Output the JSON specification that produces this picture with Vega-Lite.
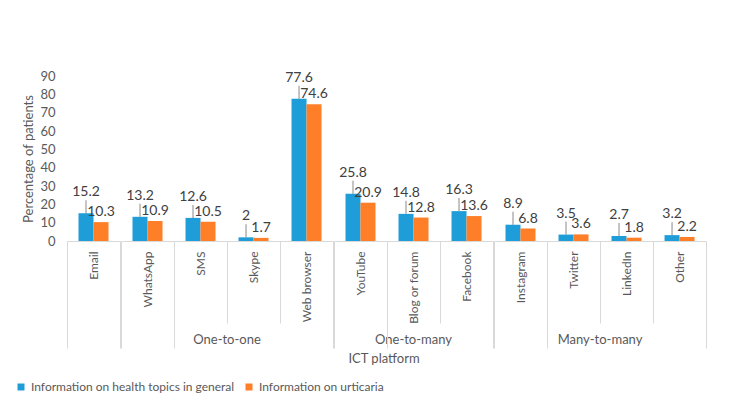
{
  "$schema": "https://vega.github.io/schema/vega-lite/v6.json",
  "padding": {"left": 15, "top": 70, "right": 5, "bottom": 5},
  "bounds": "flush",
  "data": {"values": [
    {"group": " ", "platform": "Email", "series": "Information on health topics in general", "value": 15.2},
    {"group": " ", "platform": "Email", "series": "Information on urticaria", "value": 10.3},
    {"group": "One-to-one", "platform": "WhatsApp", "series": "Information on health topics in general", "value": 13.2},
    {"group": "One-to-one", "platform": "WhatsApp", "series": "Information on urticaria", "value": 10.9},
    {"group": "One-to-one", "platform": "SMS", "series": "Information on health topics in general", "value": 12.6},
    {"group": "One-to-one", "platform": "SMS", "series": "Information on urticaria", "value": 10.5},
    {"group": "One-to-one", "platform": "Skype", "series": "Information on health topics in general", "value": 2},
    {"group": "One-to-one", "platform": "Skype", "series": "Information on urticaria", "value": 1.7},
    {"group": "One-to-one", "platform": "Web browser", "series": "Information on health topics in general", "value": 77.6},
    {"group": "One-to-one", "platform": "Web browser", "series": "Information on urticaria", "value": 74.6},
    {"group": "One-to-many", "platform": "YouTube", "series": "Information on health topics in general", "value": 25.8},
    {"group": "One-to-many", "platform": "YouTube", "series": "Information on urticaria", "value": 20.9},
    {"group": "One-to-many", "platform": "Blog or forum", "series": "Information on health topics in general", "value": 14.8},
    {"group": "One-to-many", "platform": "Blog or forum", "series": "Information on urticaria", "value": 12.8},
    {"group": "One-to-many", "platform": "Facebook", "series": "Information on health topics in general", "value": 16.3},
    {"group": "One-to-many", "platform": "Facebook", "series": "Information on urticaria", "value": 13.6},
    {"group": "Many-to-many", "platform": "Instagram", "series": "Information on health topics in general", "value": 8.9},
    {"group": "Many-to-many", "platform": "Instagram", "series": "Information on urticaria", "value": 6.8},
    {"group": "Many-to-many", "platform": "Twitter", "series": "Information on health topics in general", "value": 3.5},
    {"group": "Many-to-many", "platform": "Twitter", "series": "Information on urticaria", "value": 3.6},
    {"group": "Many-to-many", "platform": "LinkedIn", "series": "Information on health topics in general", "value": 2.7},
    {"group": "Many-to-many", "platform": "LinkedIn", "series": "Information on urticaria", "value": 1.8},
    {"group": "Many-to-many", "platform": "Other", "series": "Information on health topics in general", "value": 3.2},
    {"group": "Many-to-many", "platform": "Other", "series": "Information on urticaria", "value": 2.2}
  ]},
  "facet": {
    "column": {
      "field": "group",
      "type": "nominal",
      "sort": [" ", "One-to-one", "One-to-many", "Many-to-many"],
      "title": "ICT platform",
      "header": {
        "labelOrient": "bottom",
        "titleOrient": "bottom",
        "labelFont": "Lato",
        "labelFontSize": 13,
        "labelColor": "#595959",
        "labelPadding": 93,
        "titleFont": "Lato",
        "titleFontSize": 13,
        "titleFontWeight": "normal",
        "titleColor": "#595959",
        "titlePadding": -4
      }
    }
  },
  "spacing": 0,
  "resolve": {"scale": {"x": "independent"}},
  "spec": {
    "width": {"step": 15},
    "height": 165,
    "encoding": {
      "x": {
        "field": "platform",
        "type": "nominal",
        "sort": ["Email", "WhatsApp", "SMS", "Skype", "Web browser", "YouTube", "Blog or forum", "Facebook", "Instagram", "Twitter", "LinkedIn", "Other"],
        "title": null,
        "scale": {"paddingInner": 0, "paddingOuter": 0},
        "axis": {
          "labelAngle": -90,
          "labelPadding": {"condition": {"test": "datum.index == 0 || datum.index >= 1 || !datum.label", "value": -97}, "value": -72},
          "labelLimit": 200,
          "labelFont": "Lato",
          "labelFontSize": 12,
          "labelColor": "#595959",
          "tickBand": "extent",
          "tickColor": "#d9d9d9",
          "tickSize": {"condition": {"test": "datum.index == 0 || datum.index >= 1 || !datum.label", "value": 107}, "value": 82},
          "domainColor": "#d9d9d9"
        }
      },
      "xOffset": {"field": "series", "type": "nominal", "sort": ["Information on health topics in general", "Information on urticaria"], "scale": {"paddingInner": 0, "paddingOuter": 0.767}},
      "y": {
        "field": "value",
        "type": "quantitative",
        "title": "Percentage of patients",
        "scale": {"domain": [0, 90]},
        "axis": {
          "tickCount": 10,
          "domain": false,
          "ticks": false,
          "grid": false,
          "labelPadding": 12,
          "labelFont": "Lato",
          "labelFontSize": 13,
          "labelColor": "#595959",
          "titleFont": "Lato",
          "titleFontSize": 13,
          "titleFontWeight": "normal",
          "titleColor": "#595959",
          "titlePadding": 4
        }
      }
    },
    "layer": [
      {
        "mark": {"type": "bar"},
        "encoding": {
          "color": {
            "field": "series",
            "type": "nominal",
            "scale": {"domain": ["Information on health topics in general", "Information on urticaria"], "range": ["#1f9dd9", "#fe7f27"]},
            "legend": {
              "title": null,
              "orient": "none",
              "legendX": -52,
              "legendY": 305,
              "direction": "horizontal",
              "symbolType": "square",
              "symbolSize": 49,
              "symbolStrokeWidth": 0,
              "labelFont": "Lato",
              "labelFontSize": 12,
              "labelColor": "#595959",
              "columnPadding": 8,
              "labelLimit": 400
            }
          }
        }
      },
      {
        "transform": [{"filter": "datum.series == 'Information on health topics in general'"}],
        "mark": {"type": "tick", "orient": "vertical", "size": 13, "thickness": 1, "color": "#595959", "yOffset": -6.5}
      },
      {
        "transform": [{"filter": "datum.series == 'Information on health topics in general'"}],
        "mark": {"type": "text", "baseline": "bottom", "dy": -14, "font": "Lato", "fontSize": 14, "color": "#404040"},
        "encoding": {"text": {"field": "value", "type": "nominal"}}
      },
      {
        "transform": [{"filter": "datum.series == 'Information on urticaria'"}],
        "mark": {"type": "text", "baseline": "bottom", "dy": -3, "font": "Lato", "fontSize": 14, "color": "#404040"},
        "encoding": {"text": {"field": "value", "type": "nominal"}}
      }
    ]
  },
  "config": {
    "view": {"stroke": null},
    "background": "white"
  }
}
